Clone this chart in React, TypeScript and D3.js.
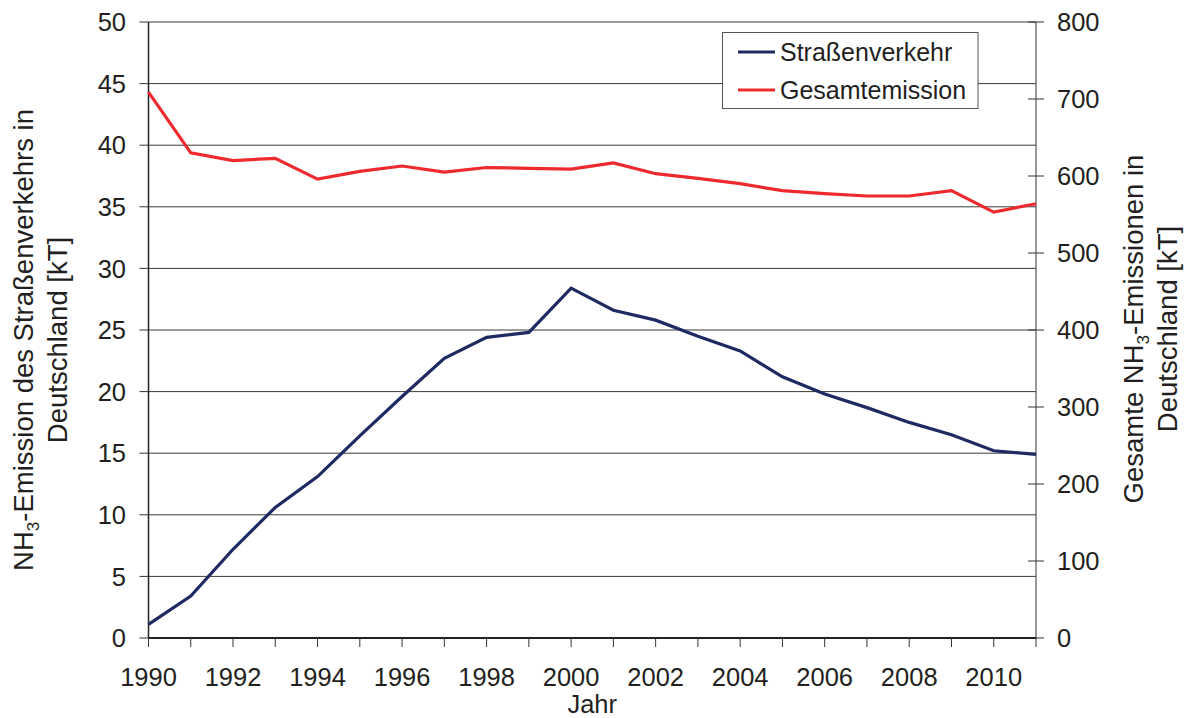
import React from "react";
import * as d3 from "d3";

const years = [1990,1991,1992,1993,1994,1995,1996,1997,1998,1999,2000,2001,2002,2003,2004,2005,2006,2007,2008,2009,2010,2011];
const strassenverkehr = [1.1,3.4,7.2,10.6,13.1,16.4,19.6,22.7,24.4,24.8,28.4,26.6,25.8,24.5,23.3,21.2,19.8,18.7,17.5,16.5,15.2,14.9];
const gesamtemission = [709,630,620,623,596,606,613,605,611,610,609,617,603,597,590,581,577,574,574,581,553,564];
const leftTicks = [0,5,10,15,20,25,30,35,40,45,50];
const rightTicks = [0,100,200,300,400,500,600,700,800];
const xLabelYears = [1990,1992,1994,1996,1998,2000,2002,2004,2006,2008,2010];

const W = 1187, H = 718;
const L = 148.5, R = 1036, T = 22, B = 638;
const FONT = "'Liberation Sans', Arial, Helvetica, sans-serif";
const TICK_FS = 25.5;
const TITLE_FS = 27.5;

export default function App() {
  const x = d3.scaleLinear().domain([1990, 2011]).range([L, R]);
  const yL = d3.scaleLinear().domain([0, 50]).range([B, T]);
  const yR = d3.scaleLinear().domain([0, 800]).range([B, T]);
  const lineL = d3.line<number>().x((_, i) => x(years[i])).y(d => yL(d));
  const lineR = d3.line<number>().x((_, i) => x(years[i])).y(d => yR(d));
  const txt = "#231f20";
  return (
    <svg width={W} height={H} style={{ position: "absolute", left: 0, top: 0, background: "#fff" }} fontFamily={FONT}>
      {/* gridlines */}
      {leftTicks.filter(t => t > 0).map(t => (
        <line key={"g" + t} x1={L} x2={R} y1={yL(t)} y2={yL(t)} stroke="#3a3a3a" strokeWidth={1} />
      ))}
      {/* left axis */}
      <line x1={L} x2={L} y1={T} y2={B} stroke="#222" strokeWidth={1.5} />
      {leftTicks.map(t => (
        <g key={"l" + t}>
          <line x1={L - 9} x2={L} y1={yL(t)} y2={yL(t)} stroke="#333" strokeWidth={1} />
          <text x={126} y={yL(t)} dy="0.36em" textAnchor="end" fontSize={TICK_FS} fill={txt}>{t}</text>
        </g>
      ))}
      {/* right axis */}
      <line x1={R} x2={R} y1={T} y2={B} stroke="#555" strokeWidth={1.2} />
      {rightTicks.map(t => (
        <g key={"r" + t}>
          <line x1={R - 8} x2={R + 8} y1={yR(t)} y2={yR(t)} stroke="#333" strokeWidth={1} />
          <text x={1057} y={yR(t)} dy="0.36em" textAnchor="start" fontSize={TICK_FS} fill={txt}>{t}</text>
        </g>
      ))}
      {/* bottom axis */}
      <line x1={L} x2={R} y1={B} y2={B} stroke="#222" strokeWidth={2} />
      {years.map(yr => (
        <line key={"xt" + yr} x1={x(yr)} x2={x(yr)} y1={B} y2={B + 9} stroke="#333" strokeWidth={1} />
      ))}
      {xLabelYears.map(yr => (
        <text key={"xl" + yr} x={x(yr)} y={686} textAnchor="middle" fontSize={TICK_FS} fill={txt}>{yr}</text>
      ))}
      <text x={(L + R) / 2} y={713} textAnchor="middle" fontSize={TICK_FS} fill={txt}>Jahr</text>
      {/* lines */}
      <path d={lineR(gesamtemission) || ""} fill="none" stroke="#ee2a2e" strokeWidth={3.2} strokeLinejoin="miter" />
      <path d={lineL(strassenverkehr) || ""} fill="none" stroke="#1f2a63" strokeWidth={3.2} strokeLinejoin="miter" />
      {/* legend */}
      <rect x={722.5} y={32.5} width={255.5} height={76} fill="#fff" stroke="#555" strokeWidth={1} />
      <line x1={738} x2={775} y1={52} y2={52} stroke="#1f2a63" strokeWidth={3.2} />
      <text x={780} y={52} dy="0.36em" fontSize={25} fill={txt}>Straßenverkehr</text>
      <line x1={738} x2={775} y1={90} y2={90} stroke="#ee2a2e" strokeWidth={3.2} />
      <text x={780} y={90} dy="0.36em" fontSize={25} fill={txt}>Gesamtemission</text>
      {/* left title */}
      <g transform={`translate(33, 340) rotate(-90)`}>
        <text x={0} y={0} textAnchor="middle" fontSize={TITLE_FS} fill={txt}>
          NH<tspan fontSize={17} dy={6}>3</tspan><tspan dy={-6}>-Emission des Straßenverkehrs in</tspan>
        </text>
        <text x={0} y={34} textAnchor="middle" fontSize={TITLE_FS} fill={txt}>Deutschland [kT]</text>
      </g>
      {/* right title */}
      <g transform={`translate(1143, 329) rotate(-90)`}>
        <text x={0} y={0} textAnchor="middle" fontSize={TITLE_FS} fill={txt}>
          Gesamte NH<tspan fontSize={17} dy={6}>3</tspan><tspan dy={-6}>-Emissionen in</tspan>
        </text>
        <text x={0} y={34} textAnchor="middle" fontSize={TITLE_FS} fill={txt}>Deutschland [kT]</text>
      </g>
    </svg>
  );
}
